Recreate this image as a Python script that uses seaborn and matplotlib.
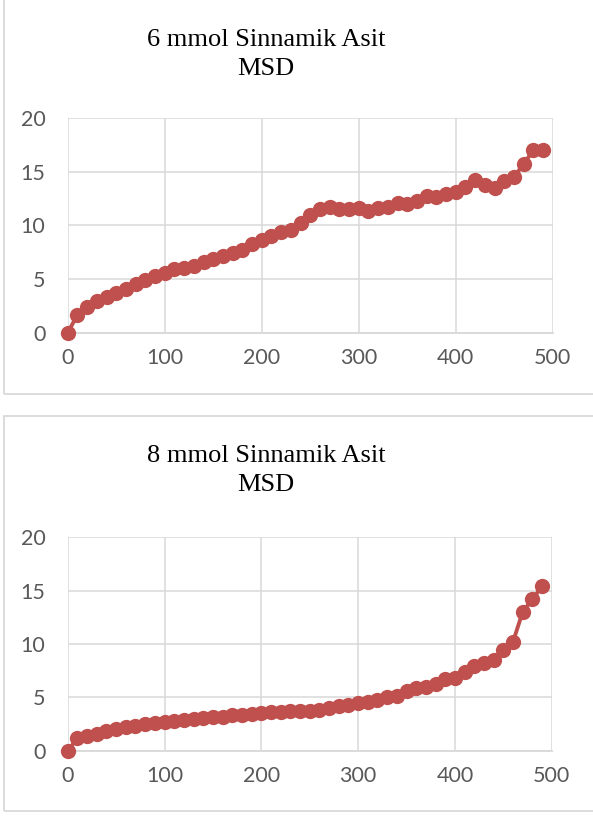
import matplotlib
matplotlib.use("Agg")
import matplotlib.pyplot as plt
import seaborn as sns
import pandas as pd
from matplotlib.patches import Rectangle

time_points = list(range(0, 500, 10))

msd_6mmol = [0, 1.65, 2.4, 2.95, 3.3, 3.7, 4.05, 4.5, 4.9, 5.3,
             5.6, 5.9, 6.05, 6.2, 6.55, 6.9, 7.15, 7.4, 7.75, 8.25,
             8.6, 9.0, 9.4, 9.6, 10.25, 11.0, 11.5, 11.75, 11.5, 11.5,
             11.6, 11.3, 11.6, 11.7, 12.1, 12.0, 12.3, 12.75, 12.6, 12.9,
             13.1, 13.6, 14.2, 13.8, 13.5, 14.1, 14.5, 15.7, 17.0, 17.0]

msd_8mmol = [0, 1.15, 1.35, 1.6, 1.85, 2.05, 2.2, 2.35, 2.5, 2.6,
             2.7, 2.8, 2.9, 3.0, 3.1, 3.15, 3.2, 3.3, 3.35, 3.45,
             3.55, 3.6, 3.65, 3.7, 3.7, 3.75, 3.85, 4.0, 4.2, 4.3,
             4.45, 4.6, 4.75, 5.0, 5.1, 5.55, 5.85, 6.0, 6.25, 6.7,
             6.8, 7.4, 7.95, 8.25, 8.5, 9.45, 10.2, 13.0, 14.2, 15.4]

title_lines_6 = ["6 mmol Sinnamik Asit", "MSD"]
title_lines_8 = ["8 mmol Sinnamik Asit", "MSD"]
x_ticks = [0, 100, 200, 300, 400, 500]
y_ticks = [0, 5, 10, 15, 20]

sns.set_theme(style="white")
plt.rcParams['font.family'] = ['Lato', 'DejaVu Sans']

W, H = 593, 816
fig = plt.figure(figsize=(W / 100, H / 100), dpi=100)

def fx(px):
    return px / W

def fy(py):
    return 1 - py / H

grid_c = "#d9d9d9"
red = "#c0504d"
tick_c = "#595959"

# chart frames
for (top, bot) in [(-5, 394), (416, 811)]:
    fig.patches.append(Rectangle((fx(3.5), fy(bot)), fx(700), (bot - top) / H,
                                 transform=fig.transFigure, fill=False,
                                 edgecolor=grid_c, linewidth=1.3, zorder=0))

panels = [
    dict(data=msd_6mmol, title=title_lines_6, ax_box=(67.7, 118, 552.7, 332.7), title_y=(40, 69)),
    dict(data=msd_8mmol, title=title_lines_8, ax_box=(67.7, 537.3, 551.7, 750.7), title_y=(456, 485)),
]

for p in panels:
    l, t, r, b = p["ax_box"]
    ax = fig.add_axes([fx(l), fy(b), (r - l) / W, (b - t) / H])
    df = pd.DataFrame({"t": time_points, "msd": p["data"]})
    sns.lineplot(data=df, x="t", y="msd", ax=ax, color=red, linewidth=2.8,
                 marker="o", markersize=11, markeredgewidth=0, zorder=5)
    for ln in ax.lines:
        ln.set_clip_on(False)
    ax.set_xlim(0, 500)
    ax.set_ylim(0, 20)
    ax.set_xticks(x_ticks)
    ax.set_yticks(y_ticks)
    ax.set_xlabel("")
    ax.set_ylabel("")
    ax.grid(True, color=grid_c, linewidth=1.1)
    ax.set_axisbelow(True)
    for s in ["top", "right", "left"]:
        ax.spines[s].set_visible(False)
    ax.spines["bottom"].set_color(grid_c)
    ax.spines["bottom"].set_linewidth(1.3)
    ax.tick_params(axis="both", length=0, colors=tick_c, labelsize=15.5)
    ax.tick_params(axis="y", pad=16)
    ax.tick_params(axis="x", pad=11)
    for line, ypx in zip(p["title"], p["title_y"]):
        fig.text(fx(266), fy(ypx), line, ha="center", va="center",
                 family="Liberation Serif", fontsize=19, color="black")

fig.savefig("out.png", dpi=100)
